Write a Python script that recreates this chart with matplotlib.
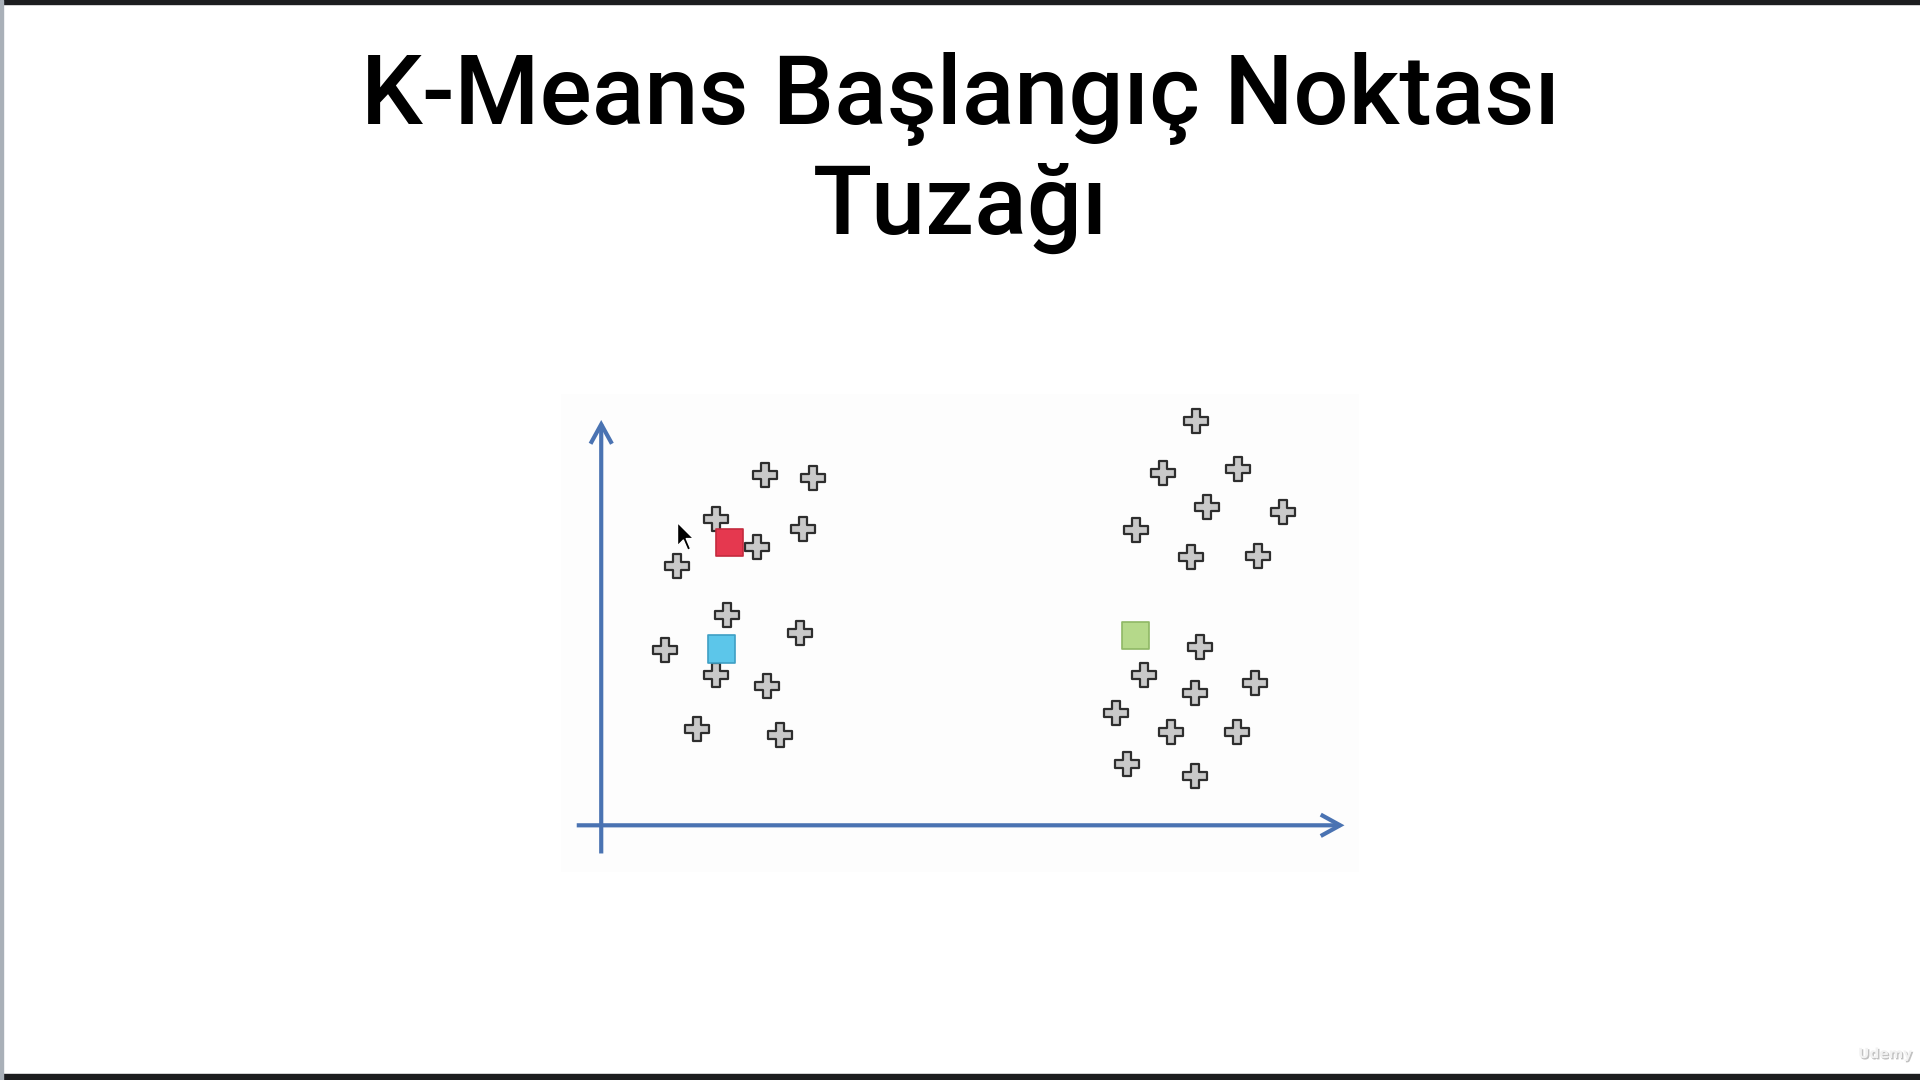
import matplotlib.pyplot as plt
import matplotlib.patheffects as pe
from matplotlib.patches import Rectangle, FancyArrowPatch

# veri noktaları (eksen başlangıcına göre)
left_x = [134, 173, 94, 165, 127, 62, 103, 162, 52, 94, 135, 78, 146]
left_y = [286, 284, 250, 242, 227, 212, 172, 157, 143, 123, 114, 79, 74]
right_x = [486, 459, 520, 495, 557, 437, 482, 536, 489, 443, 534, 485, 420, 465, 519, 429, 485]
right_y = [330, 288, 291, 260, 256, 241, 219, 220, 146, 123, 116, 108, 92, 76, 76, 50, 40]

# başlangıç merkezleri
centroid_x = [105, 98, 436]
centroid_y = [231, 144, 155]
centroid_colors = ['#e5384f', '#5cc6ea', '#b5d98a']
centroid_edges = ['#c42a3e', '#3f9fc4', '#8fb865']

title_lines = ["K-Means Başlangıç Noktası", "Tuzağı"]
cursor_pos = (62, 248)

axis_color = '#4a73b2'

fig = plt.figure(figsize=(19.2, 10.8), dpi=100)
fig.patch.set_facecolor('white')
ax = fig.add_axes([0, 0, 1, 1])
ax.set_xlim(-491, 1568 - 491)
ax.set_ylim(674 - 882, 674)
ax.axis('off')

# çerçeve şeritleri
fig.patches.append(Rectangle((0, 1 - 4 / 1080), 1, 4 / 1080, transform=fig.transFigure,
                             color='#1c1d1f', zorder=0))
fig.patches.append(Rectangle((0, 0), 1, 6 / 1080, transform=fig.transFigure,
                             color='#1c1d1f', zorder=0))
fig.patches.append(Rectangle((0, 0), 3 / 1920, 1, transform=fig.transFigure,
                             color='#a9b0b8', zorder=0))

# grafik paneli
ax.add_patch(Rectangle((-33, -38), 652, 390, color='#fdfdfd', zorder=0, lw=0))

# eksenler
for start, end in [((-20, 0), (607, 0)), ((0, -23), (0, 331))]:
    ax.add_patch(FancyArrowPatch(start, end, arrowstyle='->,head_length=1.0,head_width=0.55',
                                 color=axis_color, lw=3, mutation_scale=14, shrinkA=0, shrinkB=0,
                                 joinstyle='miter', capstyle='butt', zorder=2))

# noktalar
cross_kw = dict(marker='P', s=300, facecolor='#c9c9c9', edgecolor='#2e2e2e', linewidths=1.6, zorder=3)
ax.scatter(left_x, left_y, **cross_kw)
ax.scatter(right_x, right_y, **cross_kw)

# merkezler
ax.scatter(centroid_x, centroid_y, marker='s', s=380, c=centroid_colors,
           edgecolors=centroid_edges, linewidths=1.2, zorder=4)

# fare imleci
cursor = [(0, 0), (0, -16), (4, -12), (7, -19), (9, -18), (6, -11), (11, -11), (0, 0)]
ax.plot(cursor_pos[0], cursor_pos[1], marker=cursor, markersize=40, color='black',
        markeredgecolor='white', markeredgewidth=1.0, zorder=5)

# başlık
for i, line in enumerate(title_lines):
    fig.text(0.5005, 1 - (124 + 110 * i) / 1080, line, ha='center', va='baseline',
             fontsize=70, fontfamily='Roboto', fontweight='medium', color='black')

# filigran
fig.text(1885 / 1920, 26 / 1080, "Udemy", ha='center', va='center', fontsize=10,
         fontweight='bold', color='#f2f2f2',
         path_effects=[pe.withSimplePatchShadow(offset=(1, -1), shadow_rgbFace='#999999', alpha=0.6)])

fig.savefig('out.png', dpi=100)
